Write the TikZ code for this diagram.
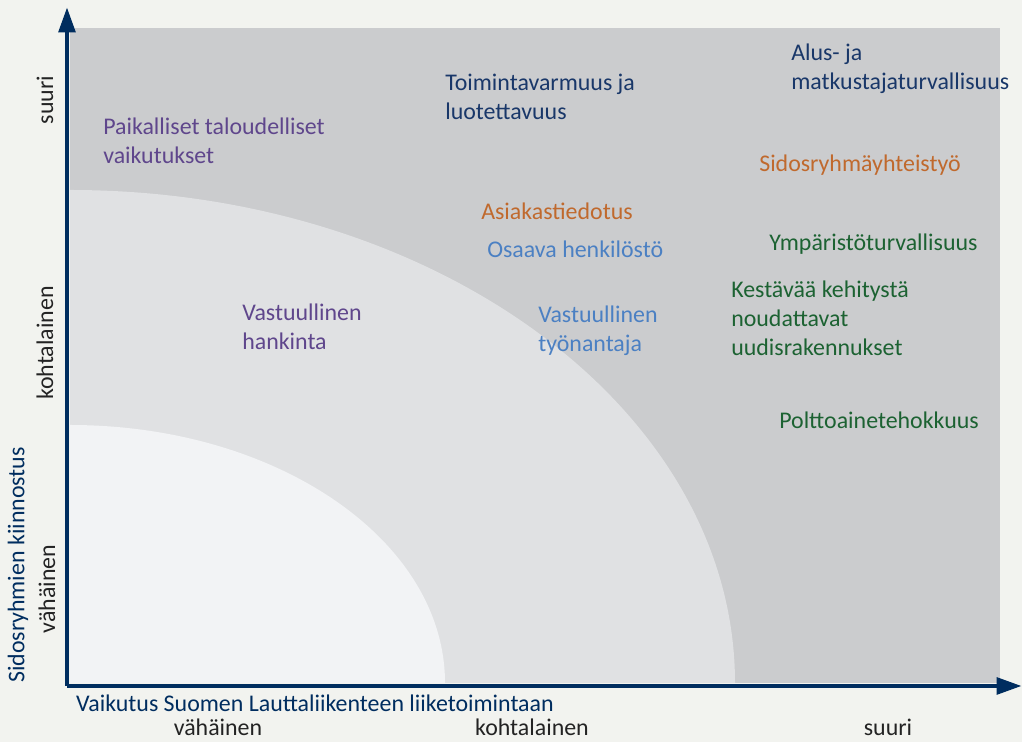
\documentclass[tikz,border=0pt]{standalone}
\usepackage{fontspec}
\setmainfont{Carlito}
\usepackage{tikz}
\usetikzlibrary{arrows.meta}

\definecolor{bgcol}{RGB}{242,243,239}
\definecolor{outercol}{RGB}{203,204,206}
\definecolor{midcol}{RGB}{224,225,227}
\definecolor{innercol}{RGB}{242,243,245}
\definecolor{navy}{RGB}{0,45,95}
\definecolor{navytext}{RGB}{25,55,105}
\definecolor{lila}{RGB}{95,70,140}
\definecolor{oranssi}{RGB}{192,105,45}
\definecolor{sininen}{RGB}{75,128,195}
\definecolor{vihrea}{RGB}{28,98,50}
\definecolor{tumma}{RGB}{35,35,35}

\begin{document}
\begin{tikzpicture}[x=0.025cm,y=0.025cm,
    topic/.style={anchor=west,align=left,inner sep=0pt,font=\fontsize{17}{20.5}\selectfont},
    scale label/.style={inner sep=0pt,text=tumma,font=\fontsize{17}{20.5}\selectfont},
    axisline/.style={line width=3.5pt,navy,-{Triangle[width=11.5pt,length=18pt]}}]
	    % tausta ja alueet
	    \fill[bgcol] (0,0) rectangle (1022,742);
	    \useasboundingbox (0,0) rectangle (1022,742);
	    \fill[outercol] (70,59) rectangle (1000,714);
	    \fill[midcol] (70,59) -- (735,59) arc (0:90:665 and 493) -- cycle;
	    \fill[innercol] (70,59) -- (445,59) arc (0:90:375 and 258) -- cycle;
	    % akselit
	    \coordinate (origo) at (67,56);
	    \coordinate (ylos) at (67,735);
	    \coordinate (oikea) at (1022,56);
	    \draw[axisline] (origo) -- (ylos);
	    \draw[axisline] (origo) -- (oikea);
	    % akselien tekstit
	    \node[scale label,rotate=90] (ysuuri) at (45,642) {suuri};
	    \node[scale label,rotate=90] (ykohtalainen) at (45,399) {kohtalainen};
	    \node[scale label,rotate=90] (yvahainen) at (47,153) {vähäinen};
	    \node[scale label,rotate=90,text=navy] (ynimi) at (18,177) {Sidosryhmien kiinnostus};
	    \node[scale label,text=navy] (xnimi) at (315,39) {Vaikutus Suomen Lauttaliikenteen liiketoimintaan};
	    \node[scale label] (xvahainen) at (218,15) {vähäinen};
	    \node[scale label] (xkohtalainen) at (532,15) {kohtalainen};
	    \node[scale label] (xsuuri) at (888,15) {suuri};
	    % aiheet
	    \node[topic,text=lila] (paikalliset) at (103,601) {Paikalliset taloudelliset\\vaikutukset};
	    \node[topic,text=navytext] (toimintavarmuus) at (445,645) {Toimintavarmuus ja\\luotettavuus};
	    \node[topic,text=navytext] (turvallisuus) at (791,673) {Alus- ja\\matkustajaturvallisuus};
	    \node[topic,text=oranssi] (yhteistyo) at (759,577) {Sidosryhmäyhteistyö};
	    \node[topic,text=oranssi] (tiedotus) at (481,531) {Asiakastiedotus};
	    \node[topic,text=sininen] (henkilosto) at (487,493) {Osaava henkilöstö};
	    \node[topic,text=vihrea] (ymparisto) at (769,498) {Ympäristöturvallisuus};
	    \node[topic,text=vihrea] (rakennukset) at (731,424) {Kestävää kehitystä\\noudattavat\\uudisrakennukset};
	    \node[topic,text=vihrea] (polttoaine) at (779,322) {Polttoainetehokkuus};
	    \node[topic,text=lila] (hankinta) at (242,415) {Vastuullinen\\hankinta};
	    \node[topic,text=sininen] (tyonantaja) at (538,411) {Vastuullinen\\työnantaja};
	\end{tikzpicture}
\end{document}
